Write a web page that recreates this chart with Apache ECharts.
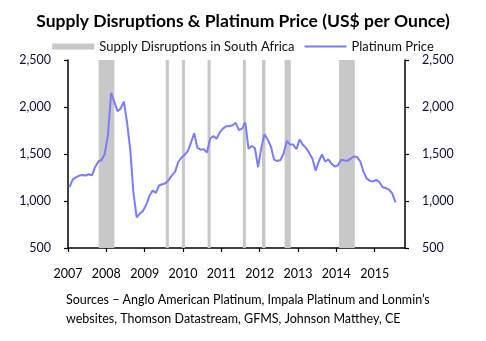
<!DOCTYPE html>
<html>
<head>
<meta charset="utf-8">
<script src="https://cdn.jsdelivr.net/npm/echarts@6/dist/echarts.min.js"></script>
<style>html,body{margin:0;padding:0;background:#fff;}#c{width:486px;height:341px;}</style>
</head>
<body>
<div id="c"></div>
<script>
// Monthly platinum price, Jan 2007 .. Jul 2015 (US$ per ounce)
var startYear = 2007;
var platinumPrice = [
  1150,1230,1252,1270,1276,1271,1284,1272,1362,1420,1436,1500,
  1700,2150,2055,1955,1985,2058,1830,1540,1080,827,866,895,
  960,1055,1112,1087,1165,1178,1188,1222,1272,1310,1415,1460,
  1490,1530,1622,1720,1565,1546,1552,1516,1664,1692,1662,1730,
  1770,1795,1795,1805,1832,1755,1770,1837,1555,1585,1563,1360,
  1565,1710,1655,1580,1440,1425,1436,1505,1640,1600,1600,1550,
  1655,1598,1565,1510,1450,1324,1420,1495,1420,1442,1395,1366,
  1380,1440,1432,1427,1450,1473,1467,1420,1310,1240,1214,1208,
  1225,1200,1146,1138,1120,1080,985
];
// Supply disruption periods (fractional years)
var disruptionStart = [2007.80, 2009.55, 2009.97, 2010.64, 2011.56, 2012.06, 2012.65, 2014.07];
var disruptionEnd   = [2008.21, 2009.63, 2010.05, 2010.72, 2011.64, 2012.15, 2012.81, 2014.48];
var yearTicks = [2007, 2008, 2009, 2010, 2011, 2012, 2013, 2014, 2015];

var FONT = 'Lato';
var priceData = platinumPrice.map(function (v, i) { return [startYear + (i + 0.5) / 12, v]; });
var areas = disruptionStart.map(function (s, i) { return [{ xAxis: s }, { xAxis: disruptionEnd[i] }]; });

function fmt(v) { return v.toLocaleString('en-US'); }

var chart = echarts.init(document.getElementById('c'), null, { renderer: 'canvas' });
var yAxisCommon = {
  type: 'value', min: 500, max: 2500, interval: 500,
  splitLine: { show: false },
  axisLine: { show: true, lineStyle: { color: '#000', width: 1.5 } },
  axisTick: { show: true, length: 4, lineStyle: { color: '#000', width: 1.2 } },
  axisLabel: { color: '#10103a', fontFamily: FONT, fontSize: 12.5, margin: 17, formatter: fmt }
};
chart.setOption({
  animation: false,
  title: {
    text: 'Supply Disruptions & Platinum Price (US$ per Ounce)',
    left: 'center', top: 7,
    textStyle: { fontFamily: FONT, fontWeight: 'bold', fontSize: 17.5, color: '#000' }
  },
  legend: {
    top: 35, left: 'center', itemGap: 9, itemWidth: 42, itemHeight: 6,
    textStyle: { fontFamily: FONT, fontSize: 13, color: '#111' },
    data: [
      { name: 'Supply Disruptions in South Africa', icon: 'rect' },
      { name: 'Platinum Price', itemStyle: { opacity: 0 } }
    ]
  },
  grid: { left: 68, right: 81, top: 60, bottom: 93 },
  xAxis: {
    type: 'value', min: 2007, max: 2015.79, interval: 1,
    splitLine: { show: false },
    axisLine: { show: true, lineStyle: { color: '#000', width: 1.5 } },
    axisTick: { show: true, length: 4, customValues: yearTicks, lineStyle: { color: '#000', width: 1.2 } },
    axisLabel: { customValues: yearTicks, color: '#000', fontFamily: FONT, fontSize: 12.5, margin: 19,
      formatter: function (v) { return String(Math.round(v)); } }
  },
  yAxis: [
    Object.assign({}, yAxisCommon, { position: 'left' }),
    Object.assign({}, yAxisCommon, { position: 'right' })
  ],
  series: [
    {
      name: 'Supply Disruptions in South Africa', type: 'line', data: [],
      itemStyle: { color: '#c8c8c8' }, lineStyle: { color: '#c8c8c8' },
      markArea: { silent: true, itemStyle: { color: '#c8c8c8' }, data: areas }
    },
    {
      name: 'Platinum Price', type: 'line', data: priceData, symbol: 'none',
      itemStyle: { color: '#7b7bff' },
      lineStyle: { color: '#7b7bff', width: 2 }, z: 3
    }
  ],
  graphic: [
    { type: 'text', left: 66, top: 293, style: { text: 'Sources \u2013 Anglo American Platinum, Impala Platinum and Lonmin\u2019s', font: '12.5px ' + FONT, fill: '#000' } },
    { type: 'text', left: 66, top: 312, style: { text: 'websites, Thomson Datastream, GFMS, Johnson Matthey, CE', font: '12.5px ' + FONT, fill: '#000' } }
  ]
});
</script>
</body>
</html>
